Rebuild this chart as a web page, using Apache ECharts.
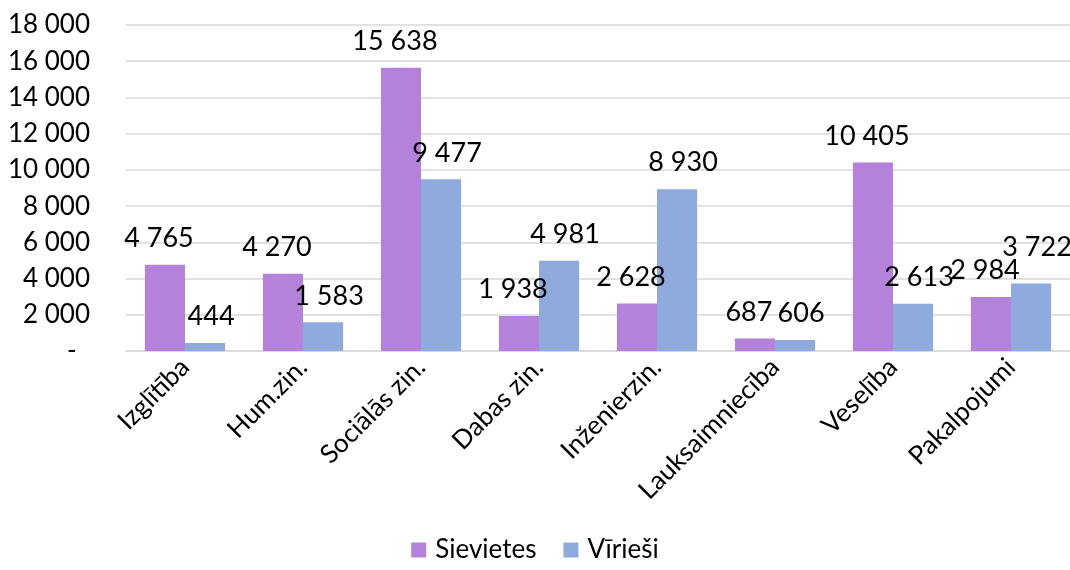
<!DOCTYPE html>
<html>
<head>
<meta charset="utf-8">
<script src="https://cdn.jsdelivr.net/npm/echarts@6/dist/echarts.min.js"></script>
<style>html,body{margin:0;padding:0;background:#fff}#c{width:1070px;height:570px}</style>
</head>
<body>
<div id="c"></div>
<script>
const categories = ['Izglītība','Hum.zin.','Sociālās zin.','Dabas zin.','Inženierzin.','Lauksaimniecība','Veselība','Pakalpojumi'];
const sievietes = [4765, 4270, 15638, 1938, 2628, 687, 10405, 2984];
const virieshi = [444, 1583, 9477, 4981, 8930, 606, 2613, 3722];
const seriesNames = ['Sievietes','Vīrieši'];

function fmt(v){
  if (v === 0) return '-  ';
  return String(v).replace(/\B(?=(\d{3})+(?!\d))/g, ' ');
}
const FONT = 'Lato, "Open Sans", sans-serif';
const FS = 26, LFS = 27, DIST = 13, DX = 6, ALLOW = 4, HTOL = 10;
const mctx = document.createElement('canvas').getContext('2d');
mctx.font = LFS + 'px Lato';
const chart = echarts.init(document.getElementById('c'));
const labelCfg = {show:true, position:'top', distance:DIST, fontSize:LFS, color:'#000', fontFamily:FONT, formatter:p=>fmt(p.value)};

function layoutPurple(){ return {dx:-DX}; }
function layoutBlue(p){
  const i = p.dataIndex;
  const r = p.rect, lr = p.labelRect;
  let pTopBar;
  try { pTopBar = chart.convertToPixel({seriesIndex:0}, [i, sievietes[i]])[1]; }
  catch(e){ pTopBar = r.y + r.height - r.height * sievietes[i] / virieshi[i]; }
  const pw = mctx.measureText(fmt(sievietes[i])).width;
  const pcx = r.x - r.width/2 - DX;
  const pRight = pcx + pw/2;
  const pBottom = pTopBar - DIST;
  const pTop = pBottom - lr.height;
  const bLeft = lr.x + DX;
  const bBottom = lr.y + lr.height;
  const bTop = lr.y;
  let dy = 0;
  if (bLeft < pRight - HTOL && bTop < pBottom && bBottom > pTop + ALLOW) {
    dy = (pTop + ALLOW) - bBottom;
  }
  return {dx:DX, dy:dy};
}

chart.setOption({
  animation:false,
  textStyle:{fontFamily:FONT},
  grid:{left:126, right:0, top:25, bottom:219, containLabel:false},
  legend:{bottom:2, left:'center', itemWidth:15, itemHeight:15, itemGap:27, icon:'rect',
    textStyle:{fontSize:FS, color:'#000', fontFamily:FONT, padding:[0,0,0,4]}, data:seriesNames},
  xAxis:{type:'category', data:categories,
    axisLine:{lineStyle:{color:'#d9d9d9', width:1.5}}, axisTick:{show:false},
    axisLabel:{rotate:45, fontSize:FS, color:'#000', margin:12, interval:0, fontFamily:FONT}},
  yAxis:{type:'value', min:0, max:18000, interval:2000,
    axisLine:{show:false}, axisTick:{show:false},
    splitLine:{lineStyle:{color:'#d9d9d9', width:1.5}},
    axisLabel:{fontSize:FS, color:'#000', margin:36, fontFamily:FONT, formatter:fmt}},
  series:[
    {name:seriesNames[0], type:'bar', data:sievietes, barGap:'0%', barCategoryGap:'32%',
     itemStyle:{color:'#B482DA'}, label:labelCfg, labelLayout:layoutPurple},
    {name:seriesNames[1], type:'bar', data:virieshi,
     itemStyle:{color:'#8FAADC'}, label:labelCfg, labelLayout:layoutBlue}
  ]
});
</script>
</body>
</html>
